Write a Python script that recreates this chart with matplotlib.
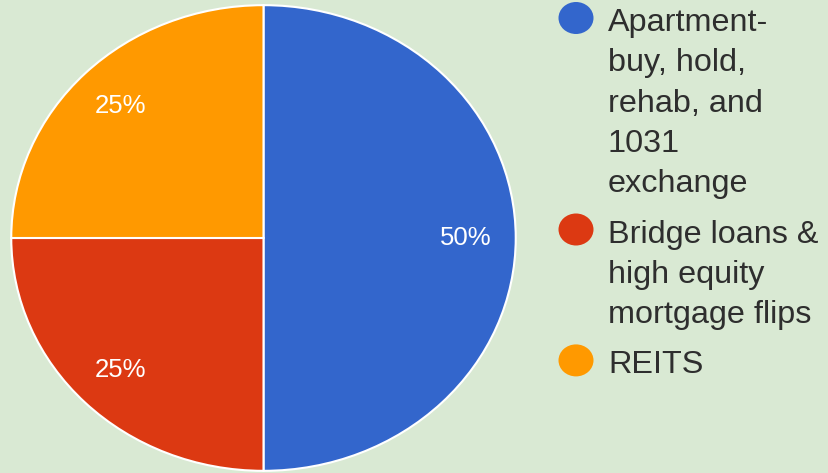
import matplotlib
matplotlib.use("Agg")
import matplotlib.pyplot as plt

# Data
categories = ["Apartment-\nbuy, hold,\nrehab, and\n1031\nexchange",
              "Bridge loans &\nhigh equity\nmortgage flips",
              "REITS"]
values = [50, 25, 25]
colors = ["#3366cc", "#dc3912", "#ff9900"]

W, H = 829, 473
bg = "#d9e9d3"

fig = plt.figure(figsize=(W / 100, H / 100), dpi=100)
fig.patch.set_facecolor(bg)

# Pie axes (slightly wider than tall, as in the reference)
ax = fig.add_axes([10 / W, 1 / H, 507 / W, 468 / H])
ax.set_facecolor(bg)
wedges, texts, autotexts = ax.pie(
    values, colors=colors, startangle=90, counterclock=False,
    autopct="%1.0f%%", pctdistance=0.8,
    wedgeprops=dict(edgecolor="white", linewidth=1.5),
    textprops=dict(color="white", fontsize=18.5, family="Liberation Sans"))
ax.set_aspect("auto")
ax.set_xlim(-1.005, 1.005)
ax.set_ylim(-1.005, 1.005)
ax.axis("off")

# Manual legend (Google-charts style, marker aligned with first line)
text_x = 608
marker_x = 576
line_step = 40.3
entry_gap = 10
baseline = 31
for lab, col in zip(categories, colors):
    lines = lab.split("\n")
    fig.patches.append(matplotlib.patches.Ellipse(
        (marker_x / W, 1 - (baseline - 13) / H), 35 / W, 32 / H,
        transform=fig.transFigure, facecolor=col, edgecolor="none"))
    for ln in lines:
        fig.text(text_x / W, 1 - baseline / H, ln, fontsize=23.3,
                 family="Liberation Sans", color="#2e2e2e",
                 ha="left", va="baseline")
        baseline += line_step
    baseline += entry_gap

fig.savefig("out.png", dpi=100, facecolor=bg)
